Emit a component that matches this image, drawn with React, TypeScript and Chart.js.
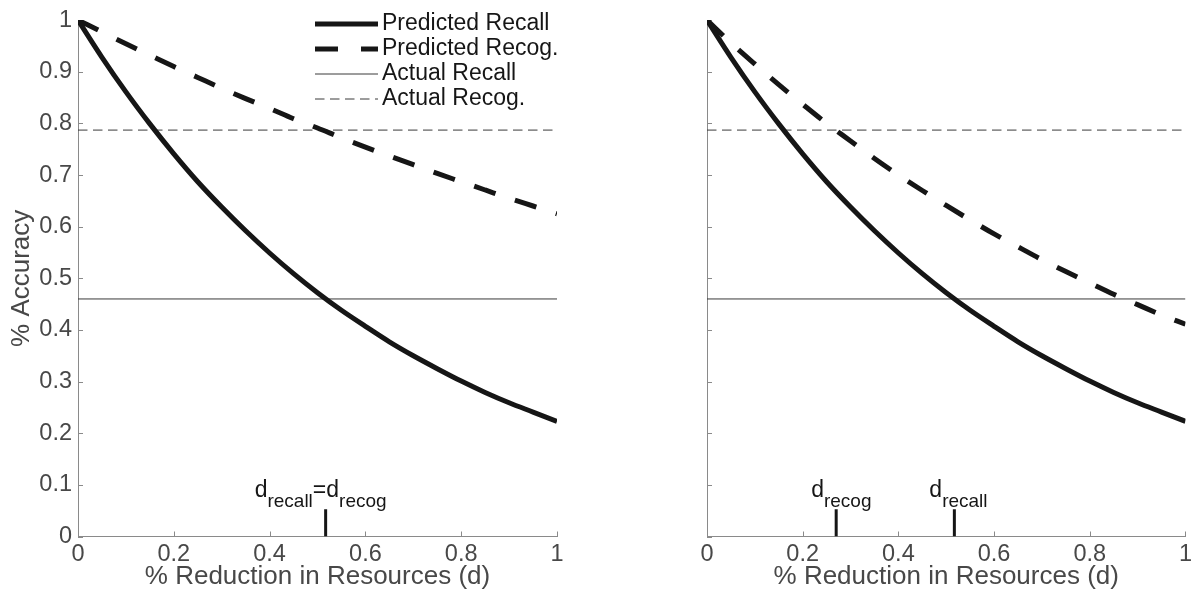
import React, { useEffect, useRef } from "react";
import { Chart, registerables } from "chart.js";

Chart.register(...registerables);

// ---------- data ----------
const dValues = [0, 0.05, 0.1, 0.15, 0.2, 0.25, 0.3, 0.35, 0.4, 0.45, 0.5, 0.55, 0.6, 0.65, 0.7, 0.75, 0.8, 0.85, 0.9, 0.95, 1];
const predictedRecall = [1, 0.928, 0.861, 0.799, 0.741, 0.687, 0.638, 0.592, 0.549, 0.509, 0.472, 0.438, 0.407, 0.377, 0.35, 0.325, 0.301, 0.279, 0.259, 0.241, 0.223];
const predictedRecogLeft = [1, 0.977, 0.954, 0.932, 0.91, 0.889, 0.868, 0.848, 0.829, 0.809, 0.791, 0.772, 0.754, 0.737, 0.72, 0.703, 0.687, 0.671, 0.655, 0.64, 0.625];
const predictedRecogRight = [1, 0.956, 0.915, 0.875, 0.837, 0.8, 0.766, 0.732, 0.7, 0.67, 0.641, 0.613, 0.586, 0.561, 0.536, 0.513, 0.491, 0.469, 0.449, 0.429, 0.411];
const actualRecall = 0.46;
const actualRecog = 0.787;
const dRecall = 0.517;
const dRecog = 0.27;
const markerHeight = 0.053;
const xTickValues = [0, 0.2, 0.4, 0.6, 0.8, 1];
const yTickValues = [0, 0.1, 0.2, 0.3, 0.4, 0.5, 0.6, 0.7, 0.8, 0.9, 1];
const seriesLabels = ["Predicted Recall", "Predicted Recog.", "Actual Recall", "Actual Recog."];
const xTitle = "% Reduction in Resources (d)";
const yTitle = "% Accuracy";

// ---------- styles ----------
const PANEL_W = 598;
const H = 597;
const FONT = "'Liberation Sans', Arial, Helvetica, sans-serif";
const AXIS_COLOR = "#8a8a8a";
const TEXT_GRAY = "#484848";
const INK = "#161616";
const THIN = "#3a3a3a";
const THICK_DASH = [22.5, 20.5];
const THIN_DASH = [9.5, 5.5];

type Part = { t: string; sub: boolean };

function drawSubText(ctx: CanvasRenderingContext2D, x: number, baseline: number, parts: Part[]) {
  let cx = x;
  ctx.textAlign = "left";
  ctx.textBaseline = "alphabetic";
  ctx.fillStyle = INK;
  for (const p of parts) {
    ctx.font = `${p.sub ? 19 : 23}px ${FONT}`;
    ctx.fillText(p.t, cx, p.sub ? baseline + 9.5 : baseline);
    cx += ctx.measureText(p.t).width;
  }
}

function line(data: { x: number; y: number }[], label: string, width: number, dash: number[], color: string) {
  return {
    label,
    data,
    borderColor: color,
    borderWidth: width,
    borderDash: dash,
    borderCapStyle: "butt" as const,
    pointRadius: 0,
    pointHoverRadius: 0,
    fill: false,
    cubicInterpolationMode: "monotone" as const,
  };
}

function buildChart(canvas: HTMLCanvasElement, panel: "left" | "right") {
  const recog = panel === "left" ? predictedRecogLeft : predictedRecogRight;
  const markers = panel === "left" ? [dRecall] : [dRecog, dRecall];
  const datasets: any[] = [
    line(dValues.map((d, i) => ({ x: d, y: predictedRecall[i] })), seriesLabels[0], 5, [], INK),
    line(dValues.map((d, i) => ({ x: d, y: recog[i] })), seriesLabels[1], 5, THICK_DASH, INK),
    line([{ x: 0, y: actualRecall }, { x: 1, y: actualRecall }], seriesLabels[2], 1, [], THIN),
    line([{ x: 0, y: actualRecog }, { x: 1, y: actualRecog }], seriesLabels[3], 1, THIN_DASH, THIN),
  ];
  markers.forEach((m) => {
    datasets.push(line([{ x: m, y: 0 }, { x: m, y: markerHeight }], "marker", 3, [], INK));
  });

  const yAxisWidth = panel === "left" ? 78 : 109;
  const rightPad = panel === "left" ? 41 : 10;

  const ticksPlugin = {
    id: "inwardTicks",
    beforeDatasetsDraw(chart: any) {
      const { ctx, chartArea, scales } = chart;
      ctx.save();
      ctx.strokeStyle = AXIS_COLOR;
      ctx.lineWidth = 1;
      ctx.beginPath();
      for (const v of xTickValues) {
        const px = Math.round(scales.x.getPixelForValue(v)) + 0.5;
        ctx.moveTo(px, chartArea.bottom);
        ctx.lineTo(px, chartArea.bottom - 5);
      }
      for (const v of yTickValues) {
        const py = Math.round(scales.y.getPixelForValue(v)) + 0.5;
        ctx.moveTo(chartArea.left, py);
        ctx.lineTo(chartArea.left + 5, py);
      }
      ctx.stroke();
      ctx.restore();
    },
  };

  const annotPlugin = {
    id: "annot",
    afterDatasetsDraw(chart: any) {
      const { ctx, scales } = chart;
      ctx.save();
      if (panel === "left") {
        const px = scales.x.getPixelForValue(dRecall);
        drawSubText(ctx, px - 71, 497, [
          { t: "d", sub: false },
          { t: "recall", sub: true },
          { t: "=", sub: false },
          { t: "d", sub: false },
          { t: "recog", sub: true },
        ]);
        // legend
        const rows = [
          { w: 5, dash: [] as number[], c: INK, y: 24 },
          { w: 5, dash: [23, 23], c: INK, y: 49 },
          { w: 1, dash: [] as number[], c: THIN, y: 74 },
          { w: 1, dash: THIN_DASH, c: THIN, y: 99 },
        ];
        rows.forEach((r, i) => {
          ctx.strokeStyle = r.c;
          ctx.lineWidth = r.w;
          ctx.lineCap = "butt";
          ctx.setLineDash(r.dash);
          ctx.beginPath();
          ctx.moveTo(315, r.y);
          ctx.lineTo(378, r.y);
          ctx.stroke();
          ctx.setLineDash([]);
          ctx.fillStyle = INK;
          ctx.font = `23px ${FONT}`;
          ctx.textAlign = "left";
          ctx.textBaseline = "middle";
          ctx.fillText(seriesLabels[i], 382, r.y);
        });
      } else {
        const p1 = scales.x.getPixelForValue(dRecog);
        const p2 = scales.x.getPixelForValue(dRecall);
        drawSubText(ctx, p1 - 25, 497, [
          { t: "d", sub: false },
          { t: "recog", sub: true },
        ]);
        drawSubText(ctx, p2 - 25, 497, [
          { t: "d", sub: false },
          { t: "recall", sub: true },
        ]);
      }
      ctx.restore();
    },
  };

  const fmt = (v: any) => String(Math.round(Number(v) * 10) / 10);

  return new Chart(canvas, {
    type: "line",
    data: { datasets },
    plugins: [ticksPlugin, annotPlugin],
    options: {
      animation: false,
      responsive: false,
      devicePixelRatio: 1,
      events: [],
      layout: { padding: { top: 17, right: rightPad, bottom: 0, left: 0 } },
      plugins: { legend: { display: false }, tooltip: { enabled: false } },
      scales: {
        x: {
          type: "linear",
          min: 0,
          max: 1,
          ticks: {
            stepSize: 0.2,
            autoSkip: false,
            maxRotation: 0,
            padding: 4,
            color: TEXT_GRAY,
            font: { family: FONT, size: 23.5 },
            callback: fmt,
          },
          grid: { display: false, drawTicks: false },
          border: { display: true, color: AXIS_COLOR, width: 1 },
          title: {
            display: true,
            text: xTitle,
            color: TEXT_GRAY,
            font: { family: FONT, size: 26 },
            padding: { top: 0, bottom: 5 },
          },
          afterFit: (s: any) => {
            s.height = 60.5;
          },
        },
        y: {
          type: "linear",
          min: 0,
          max: 1,
          ticks: {
            stepSize: 0.1,
            autoSkip: false,
            padding: 6,
            color: TEXT_GRAY,
            font: { family: FONT, size: 23.5 },
            callback: panel === "left" ? fmt : () => "",
          },
          grid: { display: false, drawTicks: false },
          border: { display: true, color: AXIS_COLOR, width: 1 },
          title: {
            display: panel === "left",
            text: yTitle,
            color: TEXT_GRAY,
            font: { family: FONT, size: 26 },
            padding: { top: 6, bottom: 0 },
          },
          afterFit: (s: any) => {
            s.width = yAxisWidth;
          },
        },
      },
    } as any,
  });
}

export default function App() {
  const leftRef = useRef<HTMLCanvasElement | null>(null);
  const rightRef = useRef<HTMLCanvasElement | null>(null);

  useEffect(() => {
    const a = buildChart(leftRef.current!, "left");
    const b = buildChart(rightRef.current!, "right");
    return () => {
      a.destroy();
      b.destroy();
    };
  }, []);

  return (
    <div style={{ position: "fixed", left: 0, top: 0, width: PANEL_W * 2, height: H, background: "#fff" }}>
      <canvas ref={leftRef} width={PANEL_W} height={H} style={{ position: "absolute", left: 0, top: 0 }} />
      <canvas ref={rightRef} width={PANEL_W} height={H} style={{ position: "absolute", left: PANEL_W, top: 0 }} />
    </div>
  );
}
